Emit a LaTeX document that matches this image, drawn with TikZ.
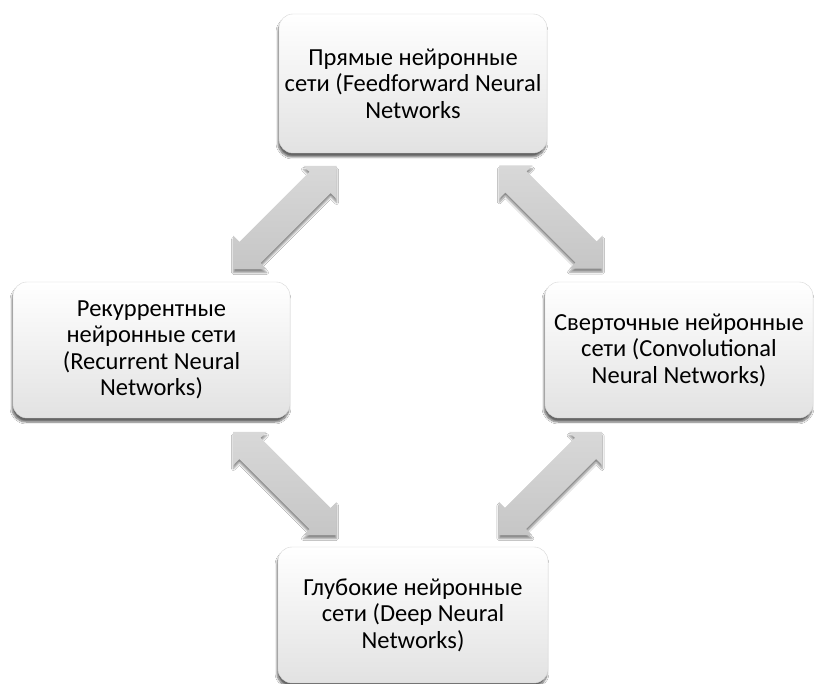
\documentclass[tikz,border=0pt]{standalone}
\usepackage{fontspec}
\setmainfont{Carlito}
\usetikzlibrary{shadows.blur}
\definecolor{boxbot}{RGB}{226,226,226}
\definecolor{boxline}{RGB}{215,215,215}
\definecolor{arrtop}{RGB}{216,216,216}
\definecolor{arrbot}{RGB}{198,198,198}
\begin{document}
\begin{tikzpicture}[x=1pt,y=-1pt,
  box/.style={rounded corners=14pt, top color=white, bottom color=boxbot,
    draw=boxline, line width=0.4pt, align=center, inner sep=0pt,
    font=\fontsize{24.5}{26.5}\selectfont, text=black,
    blur shadow={shadow xshift=-1pt, shadow yshift=-4pt, shadow blur steps=6, shadow opacity=60}},
  arrowfill/.style={top color=arrtop, bottom color=arrbot, draw=none,
    blur shadow={shadow xshift=0pt, shadow yshift=-3.5pt, shadow blur steps=5, shadow opacity=45}},
  dblarrow/.pic={\path[arrowfill] (-73,0) -- (-49.5,23.5) -- (-49.5,15) -- (49.5,15) -- (49.5,23.5)
      -- (73,0) -- (49.5,-23.5) -- (49.5,-15) -- (-49.5,-15) -- (-49.5,-23.5) -- cycle;}
]
\useasboundingbox (0,0) rectangle (815,684);
\fill[white] (0,0) rectangle (815,684);

\node[box, minimum width=268pt, minimum height=139pt] (ffnn) at (413,83.5)
  {Прямые нейронные\\сети (Feedforward Neural\\Networks};
\node[box, minimum width=277pt, minimum height=136pt] (rnn) at (151.5,350)
  {Рекуррентные\\нейронные сети\\(Recurrent Neural\\Networks)};
\node[box, minimum width=268pt, minimum height=136pt] (cnn) at (679,350)
  {Сверточные нейронные\\сети (Convolutional\\Neural Networks)};
\node[box, minimum width=270pt, minimum height=136pt] (dnn) at (413,615)
  {Глубокие нейронные\\сети (Deep Neural\\Networks)};

\pic[rotate=45] (arrA) at (285,217.5) {dblarrow};
\pic[rotate=-45] (arrB) at (551,217) {dblarrow};
\pic[rotate=-45] (arrC) at (285,483.5) {dblarrow};
\pic[rotate=45] (arrD) at (550.5,483.5) {dblarrow};
\end{tikzpicture}
\end{document}
